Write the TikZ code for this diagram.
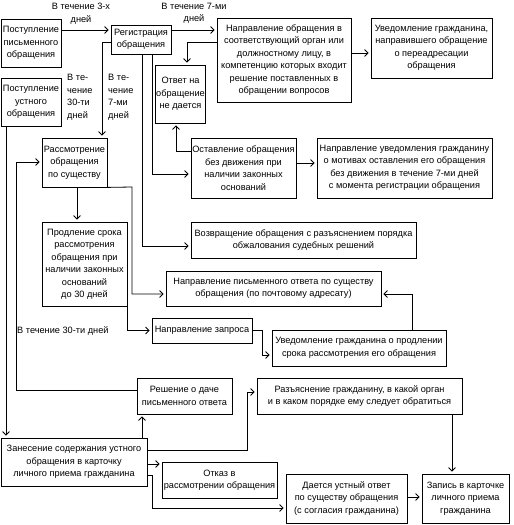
\documentclass[tikz,border=0pt]{standalone}
\usepackage{fontspec}
\setmainfont{Liberation Sans}
\usetikzlibrary{arrows.meta}
\begin{document}
\begin{tikzpicture}[x=1pt,y=-1pt,
  every node/.style={font=\fontsize{9.2}{12.5}\selectfont, inner sep=1pt},
  box/.style={draw, line width=0.8pt, align=center, minimum width=#1},
  lbl/.style={align=center},
  arr/.style={line width=0.8pt, -{Straight Barb[length=3.5pt,width=7pt]}, shorten >=2pt}]
\useasboundingbox (0,0) rectangle (514,525);
% boxes
\node[box=60, minimum height=48] (b1) at (31,43) {Поступление\\письменного\\обращения};
\node[box=60, minimum height=29] (b2) at (141,39.5) {Регистрация\\обращения};
\node[box=134, minimum height=84] (b3) at (284,60) {Направление обращения в\\соответствующий орган или\\должностному лицу, в\\компетенцию которых входит\\решение поставленных в\\обращении вопросов};
\node[box=121, minimum height=60] (b4) at (431.5,48) {Уведомление гражданина,\\направившего обращение\\о переадресации\\обращения};
\node[box=60, minimum height=48] (b5) at (31,102) {Поступление\\устного\\обращения};
\node[box=47, minimum height=58] (b6) at (180.5,94) {Ответ на\\обращение\\не дается};
\node[box=65, minimum height=49] (b7) at (74.5,162.5) {Рассмотрение\\обращения\\по существу};
\node[box=105, minimum height=60] (b8) at (243.5,168) {Оставление обращения\\без движения при\\наличии законных\\оснований};
\node[box=175, minimum height=60] (b9) at (404.5,168) {Направление уведомления гражданину\\о мотивах оставления его обращения\\без движения в течение 7-ми дней\\с момента регистрации обращения};
\node[box=225, minimum height=36] (b10) at (303.5,240) {Возвращение обращения с разъяснением порядка\\обжалования судебных решений};
\node[box=85, minimum height=84] (b11) at (84.5,264) {Продление срока\\рассмотрения\\обращения при\\наличии законных\\оснований\\до 30 дней};
\node[box=215, minimum height=35] (b12) at (273.5,288.5) {Направление письменного ответа по существу\\обращения (по почтовому адресату)};
\node[box=100, minimum height=25] (b13) at (202,330.5) {Направление запроса};
\node[box=174, minimum height=36] (b14) at (359,348) {Уведомление гражданина о продлении\\срока рассмотрения его обращения};
\node[box=95, minimum height=36] (b15) at (184.5,396) {Решение о даче\\письменного ответа};
\node[box=205, minimum height=36] (b16) at (359.5,396) {Разъяснение гражданину, в какой орган\\и в каком порядке ему следует обратиться};
\node[box=146, minimum height=48] (b17) at (74,462) {Занесение содержания устного\\обращения в карточку\\личного приема гражданина};
\node[box=115, minimum height=36] (b18) at (219.5,480) {Отказ в\\рассмотрении обращения};
\node[box=121, minimum height=49] (b19) at (346.5,498.5) {Дается устный ответ\\по существу обращения\\(с согласия гражданина)};
\node[box=87, minimum height=49] (b20) at (465.5,498.5) {Запись в карточке\\личного приема\\гражданина};
% labels
\node[lbl] (l1) at (81,13.5) {В течение 3-х\\дней};
\node[lbl] (l2) at (194,13.5) {В течение 7-ми\\дней};
\node[align=left, anchor=west] (l3) at (107,97) {В те-\\чение\\7-ми\\дней};
\node[align=left, anchor=west] (l4) at (66,97) {В те-\\чение\\30-ти\\дней};
\node[anchor=west] (l5) at (16,331) {В течение 30-ти дней};
% connectors
\draw[arr] (b1.east |- 0,30) -- (b2.west |- 0,30);
\draw[arr] (b2.east |- 0,30) -- (b3.west |- 0,30);
\draw[arr] (b3.east |- 0,53) -- (b4.west |- 0,53);
\draw[arr] (b3.west |- 0,42) -| (b6.north -| 187,0);
\draw[arr] (b2.west |- 0,42) -| (b7.north -| 102,0);
\draw[arr] (b2.south -| 152,0) |- (b8.west |- 0,174);
\draw[arr] (b2.south -| 142,0) |- (b10.west |- 0,246);
\draw[arr] (b8.west |- 0,151) -| (b6.south -| 176,0);
\draw[arr] (b8.east |- 0,163) -- (b9.west |- 0,163);
\draw[arr] (b7.south -| 77,0) -- (b11.north -| 77,0);
\draw[arr] (b7.south east) -- (132,187) |- (b12.west |- 0,294);
\draw[arr] (b11.south east) |- (b13.west);
\draw[arr] (b13.east) -- (262,330.5) |- (b14.west |- 0,355);
\draw[arr] (b14.north -| 412,0) |- (b12.east |- 0,294);
\draw[arr] (b15.west |- 0,390) -- (16,390) |- (b7.west |- 0,162);
\draw[arr] (b5.south -| 6,0) -- (b17.north -| 6,0);
\draw[arr] (b17.north -| 142,0) -- (b15.south -| 142,0);
\draw[arr] (b17.east |- 0,450) -- (247,450) |- (b16.west |- 0,392);
\draw[arr] (b17.east |- 0,464) -- (b18.west |- 0,464);
\draw[arr] (b17.east |- 0,475) -- (152,475) |- (b19.west |- 0,508);
\draw[arr] (b19.east |- 0,497) -- (b20.west |- 0,497);
\draw[arr] (b16.south -| 452,0) -- (b20.north -| 452,0);
\end{tikzpicture}
\end{document}
